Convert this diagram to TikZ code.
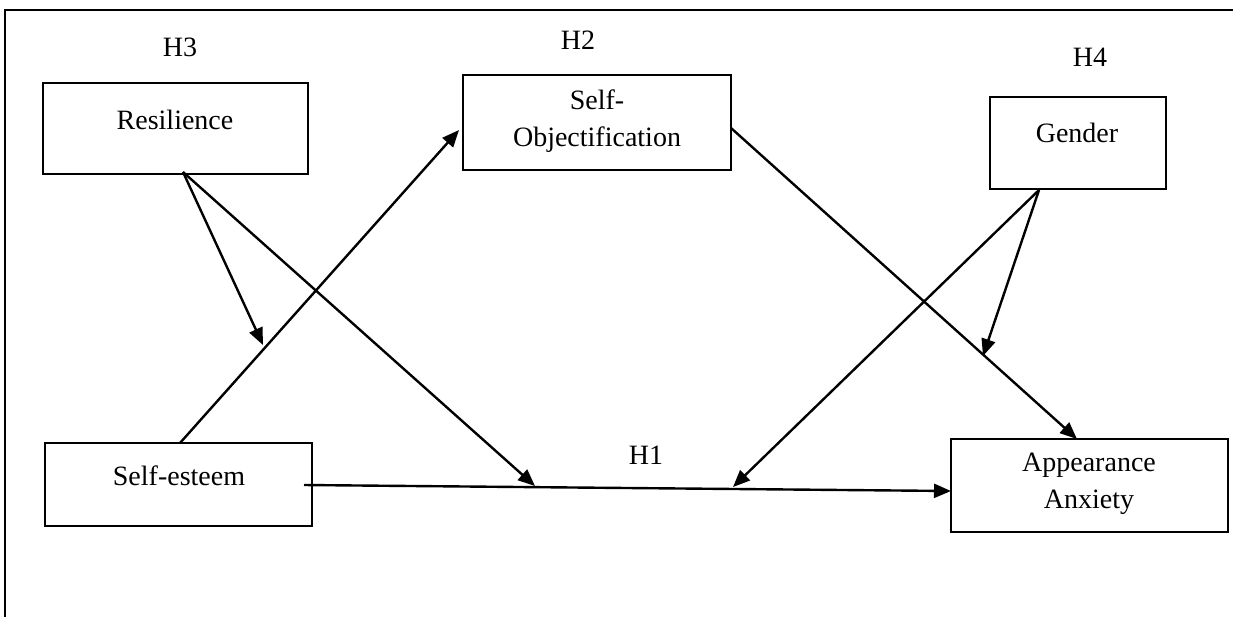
\documentclass[tikz,border=0pt]{standalone}
\usepackage{fontspec}
\setmainfont{Liberation Serif}
\usetikzlibrary{arrows.meta}
\begin{document}
\begin{tikzpicture}[x=0.5pt,y=-0.5pt,
  box/.style={draw,line width=1pt,rectangle,inner sep=0pt},
  txt/.style={inner sep=0pt,font=\fontsize{14}{18.5}\selectfont,align=center},
  conn/.style={line width=1.2pt,-{Triangle[length=8.5pt,width=7pt]}},
  plain/.style={line width=1.2pt}]
\useasboundingbox (0,0) rectangle (1233,617);
% frame (top and left)
\draw[line width=1.3pt] (5,617) -- (5,10) -- (1233,10);
% boxes
\node[box,minimum width=132.5pt,minimum height=45.5pt] (res) at (175.5,128.5) {};
\node[box,minimum width=134pt,minimum height=47.5pt] (so) at (597,122.5) {};
\node[box,minimum width=88pt,minimum height=46pt] (gen) at (1078,143) {};
\node[box,minimum width=133.5pt,minimum height=41.5pt] (se) at (178.5,484.5) {};
\node[box,minimum width=138.5pt,minimum height=46.5pt] (aa) at (1089.5,485.5) {};
% texts
\node[txt] (tres) at (175,120) {Resilience};
\node[txt] (tso) at (597,121) {Self-\\Objectification};
\node[txt] (tgen) at (1077,133) {Gender};
\node[txt] (tse) at (179,476) {Self-esteem};
\node[txt] (taa) at (1089,484) {Appearance\\Anxiety};
\node[txt] (h3) at (180,47) {H3};
\node[txt] (h2) at (578,40) {H2};
\node[txt] (h4) at (1090,57) {H4};
\node[txt] (h1) at (646,455) {H1};
% connection points
\coordinate (r0) at (183,172);
\coordinate (g0) at (1039,190);
\coordinate (seT) at (180,443);
\coordinate (seR) at (304,485);
\coordinate (soL) at (459,130);
\coordinate (soR) at (731,128);
\coordinate (aaT) at (1077,439);
\coordinate (aaL) at (951,491);
\coordinate (m1) at (535,486);
\coordinate (m2) at (733,487);
\coordinate (m3) at (263,345);
\coordinate (m4) at (983,356);
% connectors
\draw[conn] (seR) -- (aaL);
\draw[conn] (r0) -- (m1);
\draw[conn] (r0) -- (m3);
\draw[conn] (seT) -- (soL);
\draw[conn] (soR) -- (aaT);
\draw[conn] (g0) -- (m4);
\draw[conn] (g0) -- (m2);
\end{tikzpicture}
\end{document}
